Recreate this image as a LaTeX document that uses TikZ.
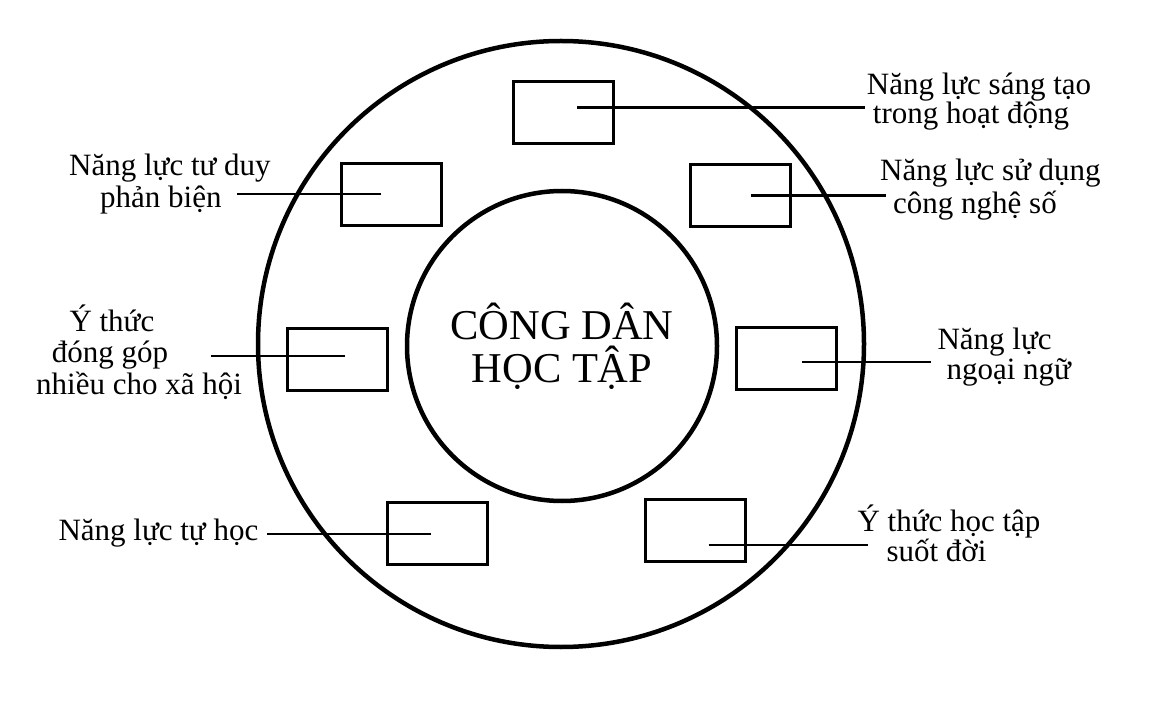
\documentclass[tikz,border=0pt]{standalone}
\usepackage{fontspec}
\setmainfont{Liberation Serif}
\usepackage{tikz}
\usetikzlibrary{calc}
\tikzset{>=latex}
\tikzset{
	ring/.style={line width=4.5pt},
	slot/.style={draw, line width=3pt, minimum width=100pt, minimum height=62pt, inner sep=0pt},
	link/.style={line width=2.5pt},
	lbl/.style={font=\fontsize{31}{31}\selectfont, inner sep=0pt, align=left, anchor=base west}
}

\begin{document}
\begin{tikzpicture}[x=1pt,y=-1pt]
			\useasboundingbox (0,0) rectangle (1173,703);
			\draw[ring] (561,344) circle [radius=303pt];
			\node[circle, draw, ring, minimum size=310pt, inner sep=0pt, align=center, font=\fontsize{42.5}{43}\selectfont] (core) at (562,346) {CÔNG DÂN\\HỌC TẬP};
			
			\node[slot] (sangtao) at (563.5,112.5) {};
			\node[slot] (phanbien) at (391.5,194.2) {};
			\node[slot] (congnghe) at (740.3,195.3) {};
			\node[slot] (donggop) at (337,359.8) {};
			\node[slot] (ngoaingu) at (786.6,358.2) {};
			\node[slot] (tuhoc) at (437.5,533.3) {};
			\node[slot] (suotdoi) at (695.3,530.5) {};
			
			% anchor is the baseline of the last line
			\node[lbl] (tSangtao) at (866.7,123.3) {Năng lực sáng tạo\\[-2pt]\hspace*{6pt}trong hoạt động};
			\node[lbl] (tPhanbien) at (69,208) {Năng lực tư duy\\[1pt]\hspace*{31pt}phản biện};
			\node[lbl] (tCongnghe) at (880,213.3) {Năng lực sử dụng\\[1.5pt]\hspace*{13pt}công nghệ số};
			\node[lbl] (tDonggop) at (36,395) {\hspace*{33.3pt}Ý thức\\\hspace*{15.7pt}đóng góp\\[1.5pt]nhiều cho xã hội};
			\node[lbl] (tNgoaingu) at (937.3,380) {Năng lực\\\hspace*{9pt}ngoại ngữ};
			\node[lbl] (tTuhoc) at (58.3,540.7) {Năng lực tự học};
			\node[lbl] (tSuotdoi) at (857.3,561.7) {Ý thức học tập\\[-1pt]\hspace*{29pt}suốt đời};
			
			\coordinate (eSangtao) at (865,107.5);
			\coordinate (ePhanbien) at (237,194.2);
			\coordinate (eCongnghe) at (886,195.7);
			\coordinate (eDonggop) at (210.7,356);
			\coordinate (eNgoaingu) at (930.7,362);
			\coordinate (eTuhoc) at (266.6,534);
			\coordinate (eSuotdoi) at (867.7,545);
			
			\draw[link] ($(sangtao)+(13.5,-5)$) -- (eSangtao);
			\draw[link] ($(phanbien)+(-10.5,0)$) -- (ePhanbien);
			\draw[link] ($(congnghe)+(10.7,0.4)$) -- (eCongnghe);
			\draw[link] ($(donggop)+(8,-3.8)$) -- (eDonggop);
			\draw[link] ($(ngoaingu)+(15.2,3.8)$) -- (eNgoaingu);
			\draw[link] ($(tuhoc)+(-6.5,0.7)$) -- (eTuhoc);
			\draw[link] ($(suotdoi)+(13.2,14.5)$) -- (eSuotdoi);
		\end{tikzpicture}
\end{document}
